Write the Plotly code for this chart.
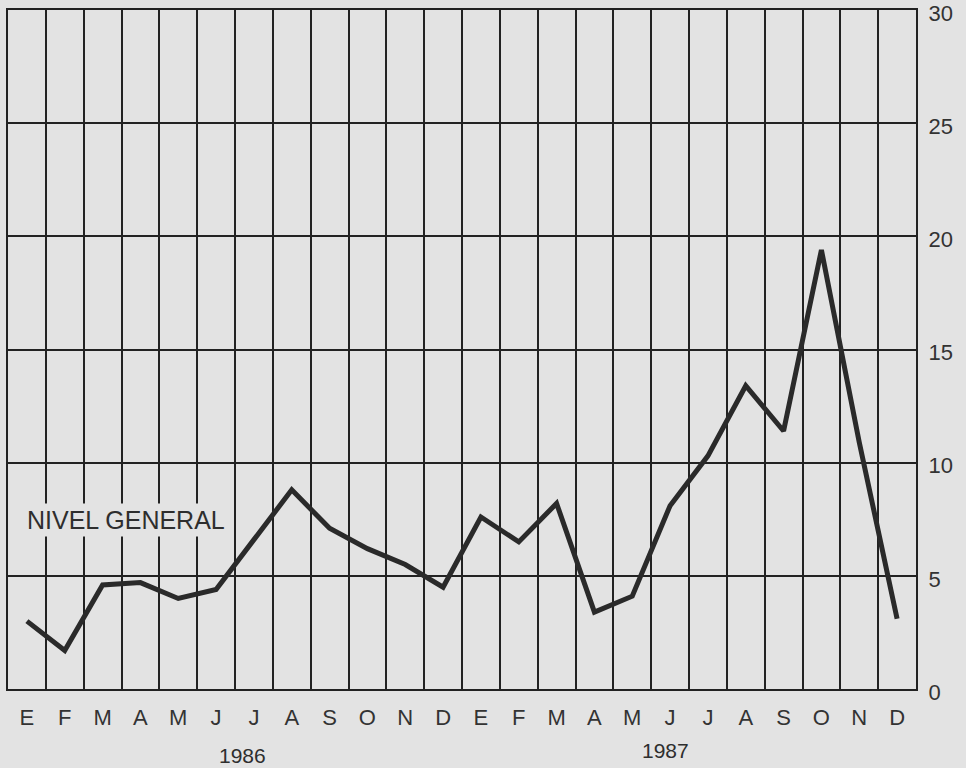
import plotly.graph_objects as go

# monthly values, Jan 1986 - Dec 1987
months = ["E", "F", "M", "A", "M", "J", "J", "A", "S", "O", "N", "D",
          "E", "F", "M", "A", "M", "J", "J", "A", "S", "O", "N", "D"]
nivel_general = [3.0, 1.7, 4.6, 4.7, 4.0, 4.4, 6.6, 8.8, 7.1, 6.2, 5.5, 4.5,
                 7.6, 6.5, 8.2, 3.4, 4.1, 8.1, 10.3, 13.4, 11.4, 19.4, 10.9, 3.1]
years = ["1986", "1987"]
y_ticks = [0, 5, 10, 15, 20, 25, 30]

bg = "#e3e3e3"
ink = "#222222"

x = [i + 0.5 for i in range(len(months))]

fig = go.Figure()
fig.add_trace(go.Scatter(
    x=x, y=nivel_general, mode="lines",
    line=dict(color="#2a2a2a", width=5),
    hoverinfo="skip", showlegend=False,
))

fig.add_annotation(
    x=0.42, y=7.45, xref="x", yref="y", text="NIVEL GENERAL",
    showarrow=False, xanchor="left", yanchor="middle",
    font=dict(size=25, color="#2e2e2e"), bgcolor=bg, borderpad=2,
)
for yr, cx, py in zip(years, [6.2, 17.37], [-0.098, -0.091]):
    fig.add_annotation(
        x=cx, y=py, xref="x", yref="paper", text=yr, showarrow=False,
        xanchor="center", yanchor="middle",
        font=dict(size=21, color="#2e2e2e"),
    )

fig.update_xaxes(
    range=[0, 24], tickvals=x, ticktext=months,
    showgrid=False, zeroline=False, automargin=False,
    ticks="outside", ticklen=8, tickcolor="rgba(0,0,0,0)",
    tickfont=dict(size=22, color="#333333"),
    minor=dict(tickvals=list(range(25)), showgrid=True,
               gridcolor=ink, gridwidth=2),
    showline=True, linecolor=ink, linewidth=2, mirror=True,
)
fig.update_yaxes(
    range=[0, 30], tickvals=y_ticks, side="right",
    showgrid=True, gridcolor=ink, gridwidth=2, zeroline=False,
    automargin=False,
    ticks="outside", ticklen=6, tickcolor="rgba(0,0,0,0)",
    tickfont=dict(size=22, color="#333333"),
    ticklabeloverflow="allow", ticklabelshift=3,
    showline=True, linecolor=ink, linewidth=2, mirror=True,
)
fig.update_layout(
    width=966, height=768,
    margin=dict(l=8, r=50, t=10, b=79),
    paper_bgcolor=bg, plot_bgcolor=bg,
    font=dict(family="Liberation Sans, Arial, sans-serif"),
)

# drop the browser's default body margin so the figure sits at 0,0
fig.write_html("out.html", config={"displayModeBar": False},
               post_script="document.body.style.margin='0';")
